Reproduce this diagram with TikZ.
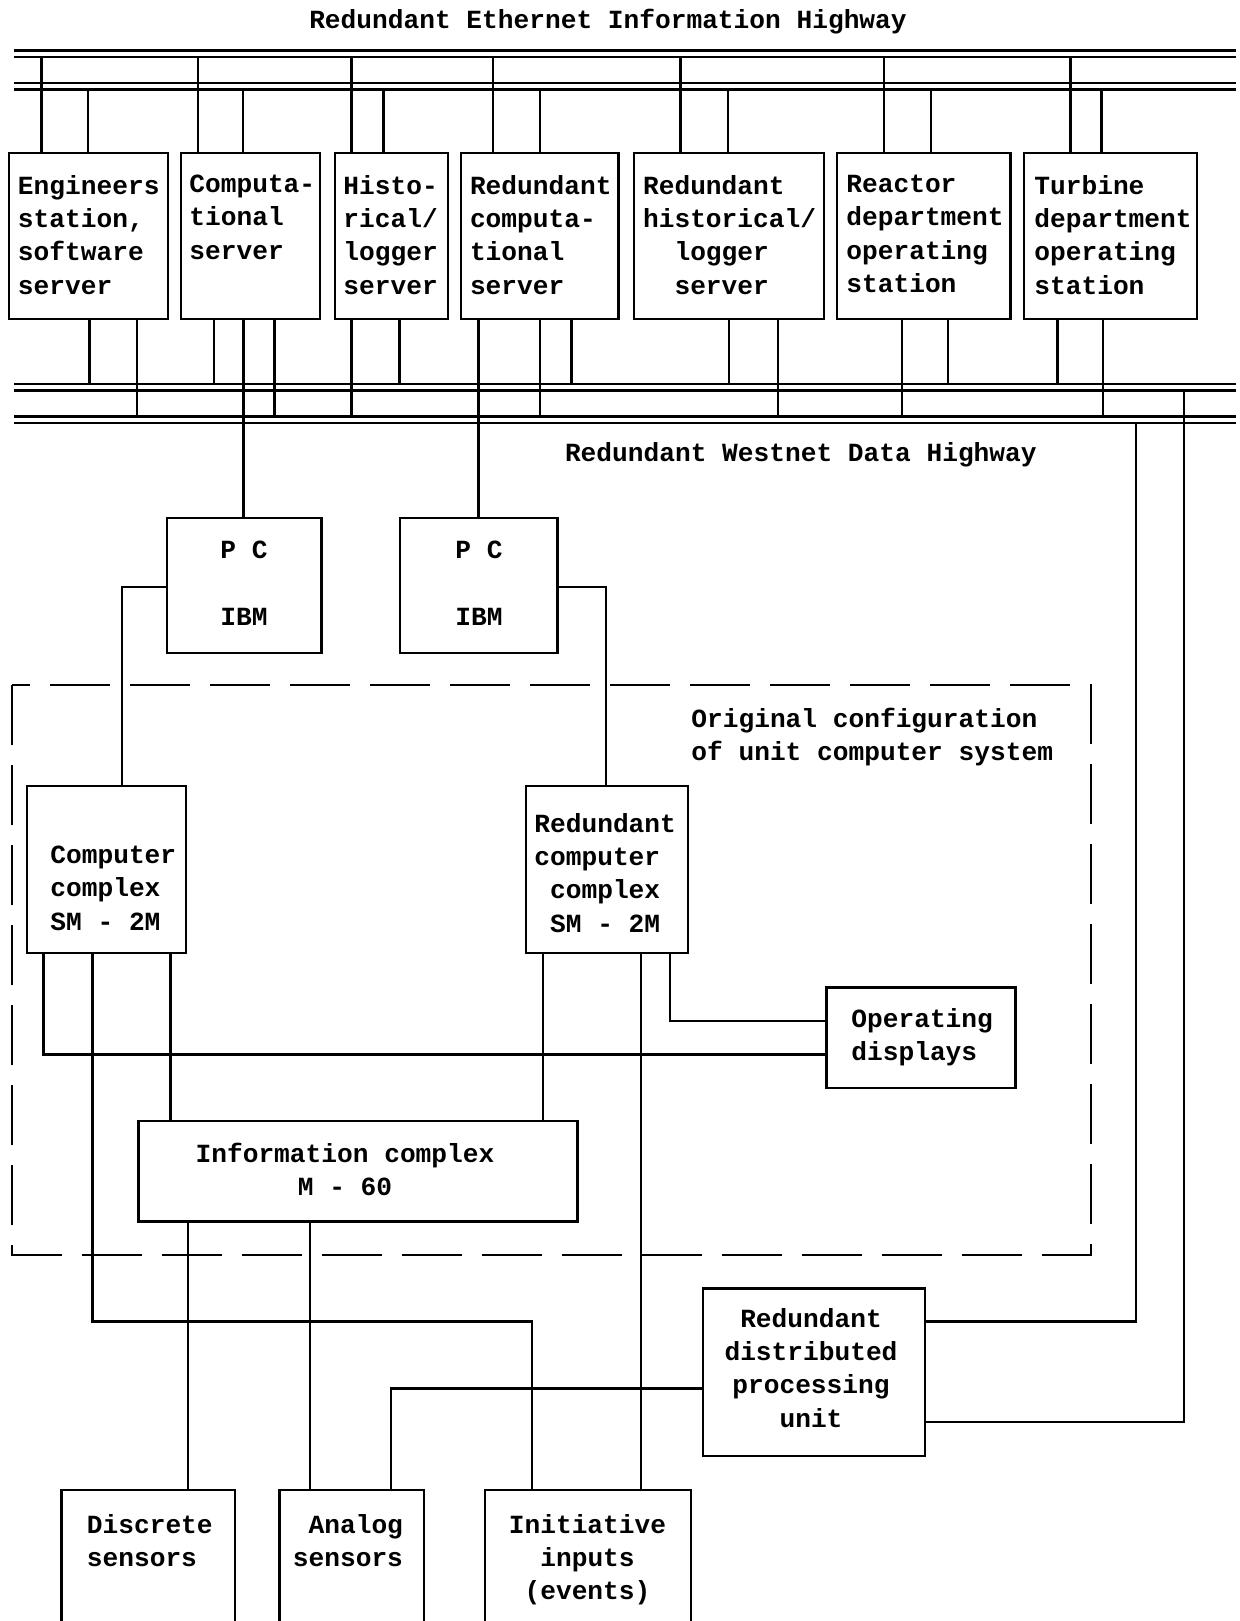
\documentclass[tikz,border=0pt]{standalone}
\usepackage{fontspec}
\setmainfont{Liberation Mono}
\usetikzlibrary{fit}
\begin{document}
\begin{tikzpicture}[x=0.5pt,y=-0.5pt,line width=1.4pt,
  box/.style={draw,inner sep=0pt,fit={#1}},
  lbl/.style={font=\bfseries\fontsize{13.1}{16.67}\selectfont,inner sep=0pt,
    align=left,anchor=north west,execute at begin node=\strut},
  clbl/.style={lbl,align=center,anchor=north},
  ttl/.style={font=\bfseries\fontsize{13.1}{16.67}\selectfont,inner sep=0pt},
  frame/.style={dash pattern=on 30pt off 10pt}]
\useasboundingbox (0,0) rectangle (1240,1621);
\clip (0,0) rectangle (1240,1621);

% ---- highways (two redundant pairs each)
\coordinate (eb1a) at (14,50.5);  \coordinate (eb1b) at (14,57);
\coordinate (eb2a) at (14,83);    \coordinate (eb2b) at (14,89.5);
\coordinate (wb1a) at (14,384);   \coordinate (wb1b) at (14,390.5);
\coordinate (wb2a) at (14,416.5); \coordinate (wb2b) at (14,423);
\foreach \c in {eb1a,eb1b,eb2a,eb2b,wb1a,wb1b,wb2a,wb2b}
  \draw (\c) -- (1236,0 |- \c);

\node[ttl,anchor=base] (ethtitle) at (608,29) {Redundant Ethernet Information Highway};
\node[ttl,anchor=base west] (wntitle) at (563.6,461) {Redundant Westnet Data Highway};

% ---- server row
\node[box={(9,153) (168,319)}] (eng) {};
\node[box={(181,153) (320,319)}] (comp) {};
\node[box={(335,153) (448,319)}] (hist) {};
\node[box={(461,153) (618.5,319)}] (rcomp) {};
\node[box={(634,153) (824,319)}] (rhist) {};
\node[box={(837,153) (1010.5,319)}] (reac) {};
\node[box={(1024,153) (1197,319)}] (turb) {};

\node[lbl] (engT) at (16.6,173.7) {Engineers\\station,\\software\\server};
\node[lbl] (compT) at (188,173.7) {Computa-\\tional\\server};
\node[lbl] (histT) at (342,173.7) {Histo-\\rical/\\logger\\server};
\node[lbl] (rcompT) at (468.6,173.7) {Redundant\\computa-\\tional\\server};
\node[lbl] (rhistT) at (641.7,173.7) {Redundant\\historical/\\\phantom{xx}logger\\\phantom{xx}server};
\node[lbl] (reacT) at (845,173.7) {Reactor\\department\\operating\\station};
\node[lbl] (turbT) at (1033,173.7) {Turbine\\department\\operating\\station};

% taps: (x, bus line, box side)
\foreach \x/\b/\n in {41.5/eb1b/eng.north, 88/eb2b/eng.north,
    198/eb1b/comp.north, 243/eb2b/comp.north,
    351.5/eb1b/hist.north, 383.5/eb2b/hist.north,
    493/eb1b/rcomp.north, 540/eb2b/rcomp.north,
    680.5/eb1b/rhist.north, 728/eb2b/rhist.north,
    884/eb1b/reac.north, 931/eb2b/reac.north,
    1070.5/eb1b/turb.north, 1101.5/eb2b/turb.north,
    89.5/wb1a/eng.south, 137/wb2a/eng.south,
    214/wb1a/comp.south, 274.5/wb2a/comp.south,
    399.5/wb1a/hist.south, 351.5/wb2a/hist.south,
    571.5/wb1a/rcomp.south, 540/wb2a/rcomp.south,
    729/wb1a/rhist.south, 778/wb2a/rhist.south,
    948/wb1a/reac.south, 902/wb2a/reac.south,
    1057.5/wb1a/turb.south, 1103/wb2a/turb.south}
  \draw (\x,0 |- \b) -- (\x,0 |- \n);

% ---- PC gateways
\node[box={(167,518) (321.5,653)}] (pc1) {};
\node[box={(400,518) (557.5,653)}] (pc2) {};
\node[clbl] (pc1T) at (244,539.7) {P C\\[16.67pt]IBM};
\node[clbl] (pc2T) at (479,539.7) {P C\\[16.67pt]IBM};
\draw (243.5,0 |- comp.south) -- (243.5,0 |- pc1.north);
\draw (478.5,0 |- rcomp.south) -- (478.5,0 |- pc2.north);

% ---- original unit computer system
\draw[frame] (12,685) rectangle (1091,1255);
\node[lbl] (origT) at (690,706.7) {Original configuration\\of unit computer system};

\node[box={(27,786) (186,953)}] (cc) {};
\node[box={(526,786) (688,953)}] (rcc) {};
\node[box={(826.5,987.5) (1015.5,1088)}] (od) {};
\node[box={(138.5,1121) (577.5,1221.5)}] (ic) {};
\node[lbl] (ccT) at (49,844.7) {Computer\\complex\\SM - 2M};
\node[lbl] (rccT) at (533,811.7) {Redundant\\computer\\\phantom{x}complex\\\phantom{x}SM - 2M};
\node[lbl] (odT) at (850,1006.7) {Operating\\displays};
\node[clbl] (icT) at (345,1141.7) {Information complex\\M - 60};

\draw (pc1.west |- 0,587) -- (122,587) -- (122,0 |- cc.north);
\draw (pc2.east |- 0,587) -- (606,587) -- (606,0 |- rcc.north);

% ---- field level
\node[box={(703,1288.5) (925,1456)}] (dpu) {};
\node[clbl] (dpuT) at (811,1306.7) {Redundant\\distributed\\processing\\unit};
\node[box={(61.5,1490) (235,1650)}] (dsens) {};
\node[box={(279.5,1490) (424,1650)}] (asens) {};
\node[box={(485,1490) (691,1650)}] (iinp) {};
\node[lbl] (dsensT) at (85.5,1512.7) {Discrete\\sensors};
\node[lbl] (asensT) at (291.5,1512.7) {\phantom{x}Analog\\sensors};
\node[clbl] (iinpT) at (587.5,1512.7) {Initiative\\inputs\\(events)};

% ---- links
\draw (43.5,0 |- cc.south) -- (43.5,1054.5) -- (od.west |- 0,1054.5);
\draw (92.5,0 |- cc.south) -- (92.5,1321.7) -- (532,1321.7) -- (532,0 |- iinp.north);
\draw (170.8,0 |- cc.south) -- (170.8,0 |- ic.north);
\draw (543,0 |- rcc.south) -- (543,0 |- ic.north);
\draw (641,0 |- rcc.south) -- (641,0 |- iinp.north);
\draw (670,0 |- rcc.south) -- (670,1021) -- (od.west |- 0,1021);
\draw (188,0 |- ic.south) -- (188,0 |- dsens.north);
\draw (310,0 |- ic.south) -- (310,0 |- asens.north);
\draw (dpu.west |- 0,1388.5) -- (391,1388.5) -- (391,0 |- asens.north);
\draw (dpu.east |- 0,1321.7) -- (1136,1321.7) -- (1136,0 |- wb2b);
\draw (dpu.east |- 0,1422) -- (1184,1422) -- (1184,0 |- wb1b);
\end{tikzpicture}
\end{document}
